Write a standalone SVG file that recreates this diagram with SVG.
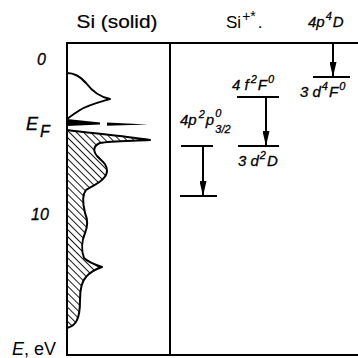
<svg xmlns="http://www.w3.org/2000/svg" width="358" height="358" viewBox="0 0 358 358">
<style>
.frame{fill:none;stroke:#000;stroke-width:2}
.lvl{stroke:#000;stroke-width:2;fill:none}
.curve{stroke:#000;stroke-width:2;fill:none;stroke-linejoin:round}
.lab{font-family:"Liberation Sans",Arial,sans-serif;font-style:italic;font-size:15px;fill:#000;stroke:#000;stroke-width:0.3}
.sup{font-size:11px}
.ax{font-family:"Liberation Sans",Arial,sans-serif;font-style:italic;fill:#000;stroke:#000;stroke-width:0.3}
.up{font-family:"Liberation Sans",Arial,sans-serif;fill:#000}
.arr{stroke:#000;stroke-width:2;fill:none;marker-end:url(#ah)}
</style>
<defs>
<pattern id="hatch" patternUnits="userSpaceOnUse" width="5" height="5" patternTransform="rotate(-45)">
<line x1="0" y1="0" x2="0" y2="5" stroke="#000" stroke-width="1.8"/>
</pattern>
<marker id="ah" markerUnits="userSpaceOnUse" markerWidth="15" markerHeight="7" refX="15" refY="3.5" orient="auto">
<path d="M0,0 L15,3.5 L0,7 Z" fill="#000"/>
</marker>
</defs>

<g id="frame">
<line class="frame" x1="67" y1="43" x2="358" y2="43"/>
<line class="frame" x1="67" y1="355" x2="358" y2="355"/>
<line class="frame" x1="67" y1="42" x2="67" y2="356"/>
<line class="frame" x1="170" y1="42" x2="170" y2="356"/>
</g>

<g id="titles">
<text class="up" x="117" y="28" font-size="18.5" text-anchor="middle" textLength="81" lengthAdjust="spacingAndGlyphs" stroke="#000" stroke-width="0.2">Si (solid)</text>
<text class="up" x="226" y="28" font-size="17">Si<tspan font-size="14" dx="1" dy="-7">+*</tspan><tspan dx="2" dy="7">.</tspan></text>
</g>

<g id="axis">
<text class="ax" x="37" y="65" font-size="16">0</text>
<text class="ax" x="26" y="130" font-size="18">E<tspan font-size="16" dx="2" dy="7">F</tspan></text>
<text class="ax" x="31" y="220" font-size="16">10</text>
<text class="up" x="12" y="355" font-size="18"><tspan font-style="italic">E</tspan>, eV</text>
</g>

<g id="dos">
<path class="curve" d="M67,73 C74,73 80,76 86,83 C92,91 100,97 110,99 C100,102 88,105 80,110 C75,113 71,116 67,119"/>
<path d="M67,119 L100,122.5 L100,124.5 L67,126 Z" fill="#000"/>
<path d="M107,122.5 L148,124.5 L107,125.8 Z" fill="#000"/>
<path class="curve" style="fill:url(#hatch)" d="M67,130 C90,133 125,136 150,140 C130,141 110,141 100,143 C93,146 93,151 97,156 C102,161 107,164 107,171 C107,179 96,184 86,190 C82,195 83,205 85,213 C88,220 88,226 85,233 C82,240 81,250 84,258 C88,262 96,265 102,267 C96,269 90,272 86,277 C81,282 80,290 80,300 C80,310 79,316 77,320 C75,325 71,327 67,328"/>
</g>

<g id="level-4pD">
<line class="lvl" x1="310" y1="43" x2="350" y2="43"/>
<text class="lab" x="308" y="27">4p<tspan class="sup" dx="1" dy="-7">4</tspan><tspan dx="1" dy="7">D</tspan></text>
</g>
<g id="level-3dF">
<line class="lvl" x1="313" y1="77" x2="350" y2="77"/>
<text class="lab" x="300" y="97">3 d<tspan class="sup" dx="1" dy="-7">4</tspan><tspan dx="1" dy="7">F</tspan><tspan class="sup" dx="1" dy="-7">0</tspan></text>
</g>
<g id="level-4fF">
<line class="lvl" x1="237" y1="97" x2="279" y2="97"/>
<text class="lab" x="232" y="90">4 f<tspan class="sup" dx="2" dy="-7">2</tspan><tspan dx="1" dy="7">F</tspan><tspan class="sup" dx="1" dy="-7">0</tspan></text>
</g>
<g id="level-3dD">
<line class="lvl" x1="238" y1="146" x2="279" y2="146"/>
<text class="lab" x="238" y="166">3 d<tspan class="sup" dx="1" dy="-7">2</tspan><tspan dx="1" dy="7">D</tspan></text>
</g>
<g id="level-4pP">
<line class="lvl" x1="181" y1="146" x2="213" y2="146"/>
<text class="lab" x="180" y="125">4p<tspan class="sup" dx="2" dy="-7">2</tspan><tspan dx="1" dy="7">p</tspan><tspan class="sup" dx="1" dy="-8">0</tspan><tspan class="sup" dx="-6" dy="16">3/2</tspan></text>
</g>
<g id="level-lower">
<line class="lvl" x1="180" y1="196" x2="217" y2="196"/>
</g>

<g id="connectors">
<line class="arr" x1="333" y1="43" x2="333" y2="77"/>
<line class="arr" x1="266" y1="97" x2="266" y2="146"/>
<line class="arr" x1="203" y1="146" x2="203" y2="196"/>
</g>
</svg>
